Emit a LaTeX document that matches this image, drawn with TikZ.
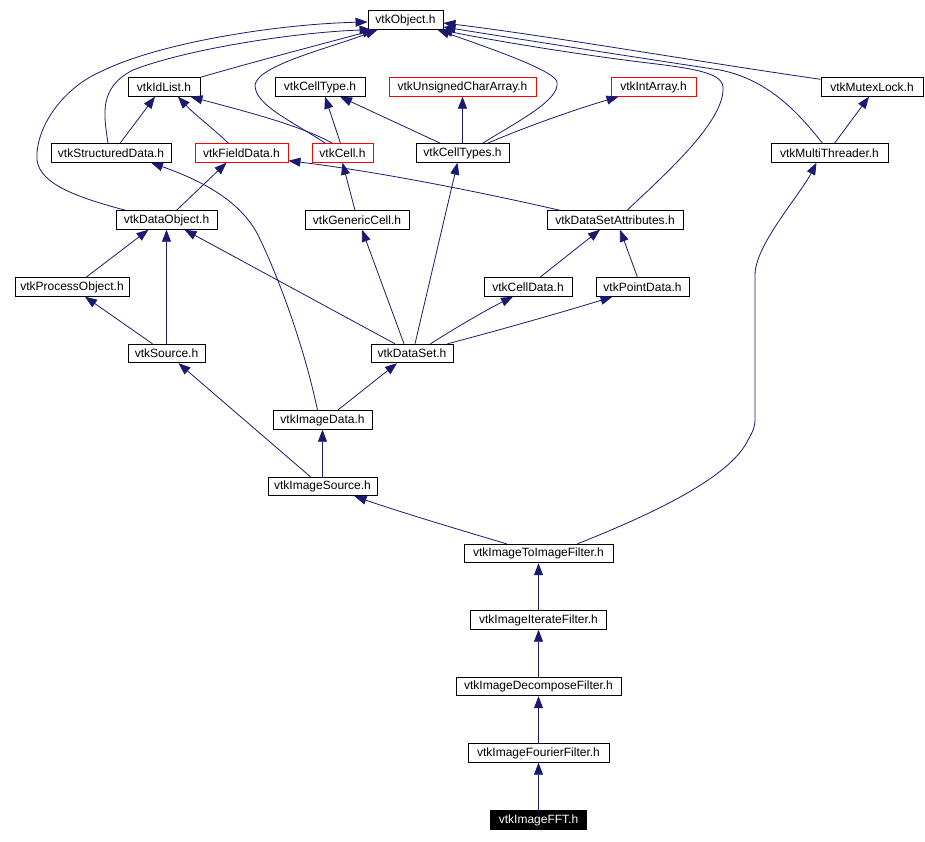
\documentclass[tikz,border=0pt]{standalone}
\usepackage{fontspec}
\setmainfont{Liberation Sans}
\usetikzlibrary{arrows.meta}
\definecolor{edgeblue}{RGB}{25,25,112}
\begin{document}
\begin{tikzpicture}[x=1pt,y=-1pt,
  box/.style={draw=black,fill=white,line width=0.9pt,inner sep=0pt,minimum height=18.5pt,font=\fontsize{12}{14}\selectfont,anchor=center},
  redbox/.style={box,draw=red},
  blackbox/.style={box,fill=black,text=white},
  edge/.style={draw=edgeblue,line width=0.8pt,-{Triangle[length=12pt,width=9pt]}}]
\useasboundingbox[fill=white] (0,0) rectangle (925,842);
% nodes
\node[box,minimum width=75] (obj) at (405.5,20) {vtkObject.h};
\node[box,minimum width=72] (idl) at (164,87) {vtkIdList.h};
\node[box,minimum width=90] (celltype) at (320,87) {vtkCellType.h};
\node[redbox,minimum width=147] (uca) at (462.5,87) {vtkUnsignedCharArray.h};
\node[redbox,minimum width=85] (ia) at (653.5,87) {vtkIntArray.h};
\node[box,minimum width=102] (mutex) at (872,87) {vtkMutexLock.h};
\node[box,minimum width=120] (sd) at (111,153) {vtkStructuredData.h};
\node[redbox,minimum width=93] (fd) at (241.5,153) {vtkFieldData.h};
\node[redbox,minimum width=61] (cell) at (342.5,153) {vtkCell.h};
\node[box,minimum width=93] (ctypes) at (462.5,153) {vtkCellTypes.h};
\node[box,minimum width=117] (mt) at (829.5,153) {vtkMultiThreader.h};
\node[box,minimum width=101] (dobj) at (166.5,220) {vtkDataObject.h};
\node[box,minimum width=104] (gc) at (357,220) {vtkGenericCell.h};
\node[box,minimum width=136] (dsa) at (615,220) {vtkDataSetAttributes.h};
\node[box,minimum width=114] (po) at (72,287) {vtkProcessObject.h};
\node[box,minimum width=88] (cd) at (528,287) {vtkCellData.h};
\node[box,minimum width=93] (pd) at (642.5,287) {vtkPointData.h};
\node[box,minimum width=77] (src) at (166.5,353.5) {vtkSource.h};
\node[box,minimum width=82] (ds) at (412,353.5) {vtkDataSet.h};
\node[box,minimum width=99] (idata) at (322.5,420) {vtkImageData.h};
\node[box,minimum width=109] (isrc) at (322.5,486.5) {vtkImageSource.h};
\node[box,minimum width=149] (i2i) at (538.5,553.5) {vtkImageToImageFilter.h};
\node[box,minimum width=136] (iter) at (538.5,620) {vtkImageIterateFilter.h};
\node[box,minimum width=165] (decomp) at (538.5,686.5) {vtkImageDecomposeFilter.h};
\node[box,minimum width=141] (fourier) at (538.5,753) {vtkImageFourierFilter.h};
\node[blackbox,minimum width=96] (fft) at (538.5,820) {vtkImageFFT.h};
% edges into vtkObject
\draw[edge] ([xshift=10]dobj.north west) .. controls (80,198) and (40,185) .. (37,160) .. controls (35,130) and (60,90) .. (100,72) .. controls (160,42) and (280,24) .. ([yshift=-2]obj.west);
\draw[edge] ([xshift=-3]sd.north) .. controls (104,115) and (98,88) .. (133,70) .. controls (190,48) and (300,32) .. ([xshift=4]obj.south west);
\draw[edge] (idl.north east) .. controls (260,60) and (330,42) .. ([xshift=7]obj.south west);
\draw[edge] ([xshift=-17]cell.north) .. controls (290,120) and (255,105) .. (255,85) .. controls (258,65) and (330,48) .. ([xshift=10]obj.south west);
\draw[edge] ([xshift=20]ctypes.north) .. controls (520,120) and (560,100) .. (557,82) .. controls (555,70) and (480,45) .. ([xshift=-6]obj.south east);
\draw[edge] ([xshift=12]dsa.north) .. controls (670,170) and (725,120) .. (723,87) .. controls (722,72) and (690,68) .. (640,62) .. controls (560,52) and (480,38) .. ([xshift=-3]obj.south east);
\draw[edge] ([xshift=-7]mt.north) .. controls (800,115) and (770,80) .. (720,70) .. controls (620,55) and (500,36) .. ([yshift=-7]obj.east);
\draw[edge] ([yshift=-2]mutex.north west) .. controls (700,62) and (550,36) .. ([yshift=-3]obj.east);
% second row
\draw[edge] ([xshift=9]sd.north) -- ([xshift=-9]idl.south);
\draw[edge] ([xshift=-13]fd.north) .. controls (215,130) and (195,115) .. ([xshift=14]idl.south);
\draw[edge] ([xshift=-10]cell.north) .. controls (300,125) and (240,110) .. ([xshift=-10]idl.south east);
\draw[edge] ([xshift=-2]cell.north) -- ([xshift=5]celltype.south);
\draw[edge] ([xshift=-22]ctypes.north) -- ([xshift=20]celltype.south);
\draw[edge] (ctypes.north) -- (uca.south);
\draw[edge] ([xshift=25]ctypes.north) .. controls (530,125) and (580,108) .. ([xshift=-35]ia.south);
\draw[edge] ([xshift=5]mt.north) -- ([xshift=-3]mutex.south);
% third row
\draw[edge] ([xshift=10]dobj.north) -- ([xshift=-15]fd.south);
\draw[edge] ([xshift=-55]dsa.north) .. controls (480,192) and (380,172) .. ([yshift=2]fd.south east);
\draw[edge] ([xshift=-2]gc.north) -- (cell.south);
\draw[edge] ([xshift=-5]idata.north) .. controls (305,350) and (280,280) .. (258,235) .. controls (240,200) and (200,180) .. ([xshift=40]sd.south);
% fourth row
\draw[edge] ([xshift=14]po.north) -- ([xshift=-18]dobj.south);
\draw[edge] ([xshift=12]cd.north) -- ([xshift=-15]dsa.south);
\draw[edge] ([xshift=-5]pd.north) -- ([xshift=5]dsa.south);
% fifth row
\draw[edge] (src.north) -- (dobj.south);
\draw[edge] ([xshift=-14]src.north) -- ([xshift=13]po.south);
\draw[edge] ([xshift=-17]ds.north) -- ([xshift=18]dobj.south);
\draw[edge] ([xshift=-8]ds.north) -- ([xshift=5]gc.south);
\draw[edge] ([xshift=3]ds.north) -- ([xshift=-5]ctypes.south);
\draw[edge] ([xshift=-23]ds.north east) .. controls (460,325) and (490,308) .. ([xshift=-15]cd.south);
\draw[edge] ([xshift=-6]ds.north east) .. controls (500,330) and (570,310) .. ([xshift=-30]pd.south);
% lower part
\draw[edge] ([xshift=15]idata.north) -- ([xshift=-15]ds.south);
\draw[edge] ([xshift=-12]isrc.north) -- ([xshift=12]src.south);
\draw[edge] (isrc.north) -- (idata.south);
\draw[edge] ([xshift=-32]i2i.north) .. controls (460,530) and (400,512) .. ([xshift=32]isrc.south);
\draw[edge] ([xshift=39]i2i.north) .. controls (650,515) and (730,478) .. (748,440) .. controls (754,430) and (755,425) .. (755,420) -- (755,275) .. controls (755,245) and (800,195) .. ([xshift=-13]mt.south);
\draw[edge] (iter.north) -- (i2i.south);
\draw[edge] (decomp.north) -- (iter.south);
\draw[edge] (fourier.north) -- (decomp.south);
\draw[edge] (fft.north) -- (fourier.south);
\end{tikzpicture}
\end{document}
